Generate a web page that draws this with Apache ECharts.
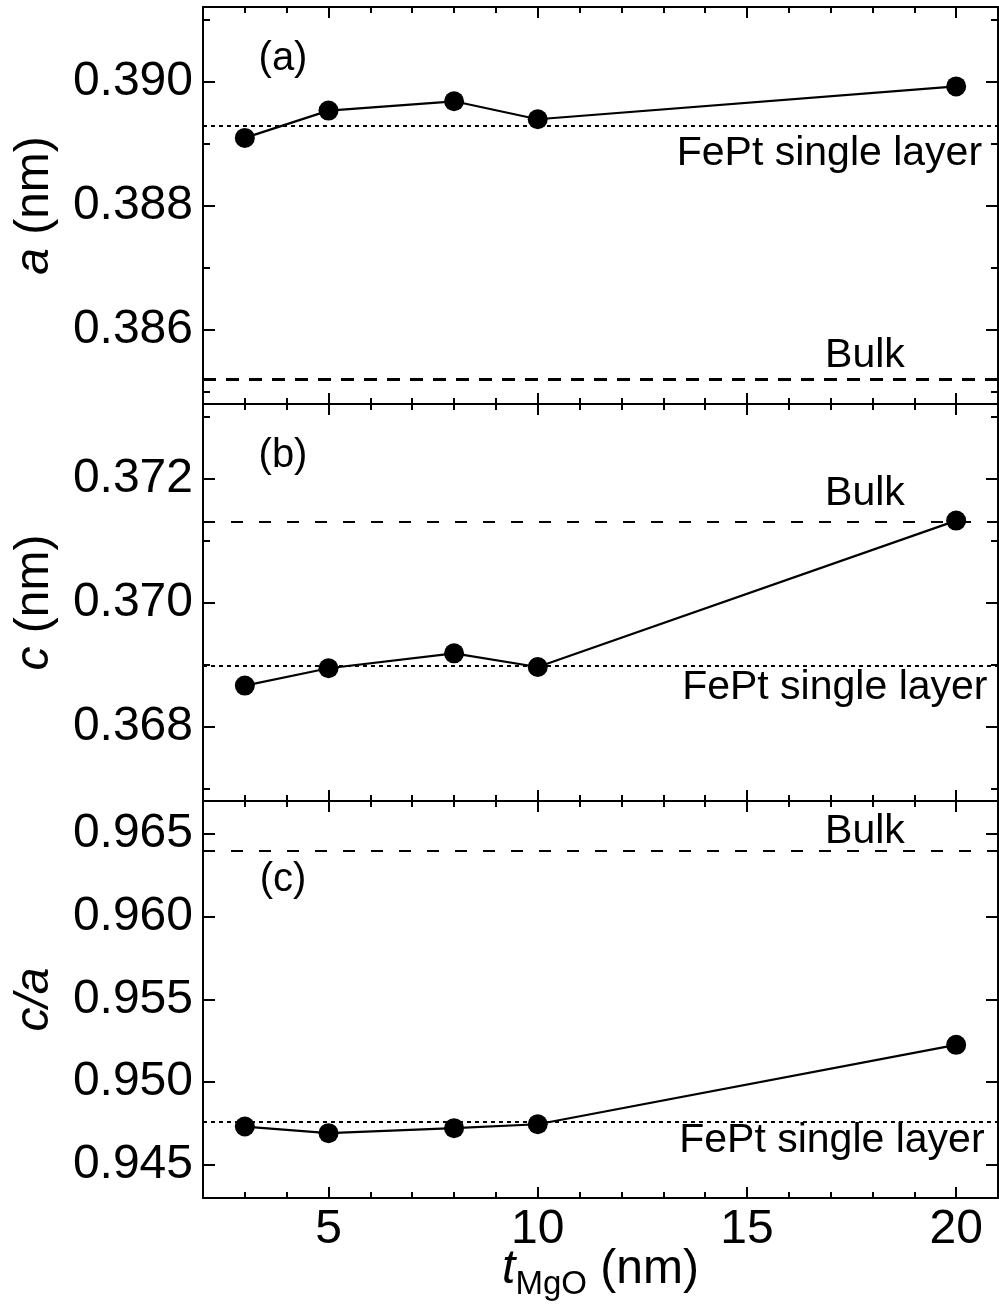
<!DOCTYPE html>
<html>
<head>
<meta charset="utf-8">
<script src="https://cdn.jsdelivr.net/npm/echarts@6/dist/echarts.min.js"></script>
<style>
  html, body { margin: 0; padding: 0; background: #fff; }
  #chart { width: 999px; height: 1304px; }
</style>
</head>
<body>
<div id="chart"></div>
<script>
// MgO layer thickness (nm)
const tMgO = [3, 5, 8, 10, 20];
// in-plane lattice constant a (nm)
const aValues = [0.38909, 0.38953, 0.38968, 0.38939, 0.38992];
// out-of-plane lattice constant c (nm)
const cValues = [0.36866, 0.36894, 0.36918, 0.36896, 0.37132];
// tetragonality c/a
const caValues = [0.94732, 0.94692, 0.94722, 0.94746, 0.95226];

// reference levels: bulk FePt and FePt single layer
const bulkA = 0.3852, singleA = 0.38929;
const bulkC = 0.3713, singleC = 0.36898;
const bulkCA = 0.964, singleCA = 0.9476;

// tick values
const xMajorTicks = [5, 10, 15, 20];
const xMinorTicks = [3, 4, 6, 7, 8, 9, 11, 12, 13, 14, 16, 17, 18, 19];
const aMajorTicks = [0.386, 0.388, 0.390];
const aMinorTicks = [0.385, 0.387, 0.389, 0.391];
const cMajorTicks = [0.368, 0.370, 0.372];
const cMinorTicks = [0.367, 0.369, 0.371, 0.373];
const caMajorTicks = [0.945, 0.950, 0.955, 0.960, 0.965];
const caMinorTicks = [];

const FONT = '"Liberation Sans", Arial, Helvetica, sans-serif';
const BLACK = '#000';

const X_MIN = 2, X_MAX = 21;
const GRID_LEFT = 203, GRID_RIGHT = 1;
const PANEL_TOPS = [7, 404, 801];
const PANEL_H = 397;

const panels = [
  {
    values: aValues, yMin: 0.3848, yMax: 0.3912,
    major: aMajorTicks, minor: aMinorTicks,
    name: '{i|a} (nm)',
    bulk: bulkA, single: singleA,
    bulkDash: [13, 10], bulkWidth: 3,
    bulkLabel: { x: 17.82, dy: -24 },
    singleLabel: { x: 16.97, dy: 28 },
    tag: '(a)', tagY: 59
  },
  {
    values: cValues, yMin: 0.3668, yMax: 0.3732,
    major: cMajorTicks, minor: cMinorTicks,
    name: '{i|c} (nm)',
    bulk: bulkC, single: singleC,
    bulkDash: [12, 16], bulkWidth: 2,
    bulkLabel: { x: 17.82, dy: -28 },
    singleLabel: { x: 17.10, dy: 22 },
    tag: '(b)', tagY: 456
  },
  {
    values: caValues, yMin: 0.943, yMax: 0.967,
    major: caMajorTicks, minor: caMinorTicks,
    name: '{i|c/a}',
    bulk: bulkCA, single: singleCA,
    bulkDash: [12, 16], bulkWidth: 2,
    bulkLabel: { x: 17.82, dy: -19 },
    singleLabel: { x: 17.03, dy: 19 },
    tag: '(c)', tagY: 880
  }
];

const grids = [], xAxes = [], yAxes = [], series = [], graphics = [];

function xAxisDef(g, position, ticks, len, withLine, withLabels) {
  const ax = {
    type: 'value', gridIndex: g, position: position,
    min: X_MIN, max: X_MAX,
    axisLine: { show: withLine, onZero: false, lineStyle: { color: BLACK, width: 2 } },
    axisTick: { show: ticks.length > 0, inside: true, length: len, customValues: ticks,
                lineStyle: { color: BLACK, width: 2 } },
    axisLabel: { show: withLabels, customValues: ticks, margin: 8,
                 fontSize: 48, fontFamily: FONT, color: BLACK },
    splitLine: { show: false }
  };
  if (withLabels) {
    ax.name = '{i|t}{s|MgO}{n| (nm)}';
    ax.nameLocation = 'middle';
    ax.nameGap = 48;
    ax.nameMoveOverlap = false;
    ax.nameTextStyle = {
      color: BLACK, fontFamily: FONT, fontSize: 48,
      rich: {
        i: { fontStyle: 'italic', fontSize: 48, fontFamily: FONT, color: BLACK, lineHeight: 48 },
        s: { fontSize: 33, fontFamily: FONT, color: BLACK, lineHeight: 33, padding: [30, 0, 0, 0] },
        n: { fontSize: 48, fontFamily: FONT, color: BLACK, lineHeight: 48 }
      }
    };
  }
  return ax;
}

function yAxisDef(g, p, position, ticks, len, withLine, withLabels) {
  const ax = {
    type: 'value', gridIndex: g, position: position,
    min: p.yMin, max: p.yMax,
    axisLine: { show: withLine, onZero: false, lineStyle: { color: BLACK, width: 2 } },
    axisTick: { show: ticks.length > 0, inside: true, length: len, customValues: ticks,
                lineStyle: { color: BLACK, width: 2 } },
    axisLabel: { show: withLabels, customValues: ticks, margin: 10,
                 fontSize: 48, fontFamily: FONT, color: BLACK,
                 formatter: v => Number(v).toFixed(3) },
    splitLine: { show: false }
  };
  if (withLabels) {
    ax.name = p.name;
    ax.nameLocation = 'middle';
    ax.nameGap = 144;
    ax.nameMoveOverlap = false;
    ax.nameTextStyle = {
      color: BLACK, fontFamily: FONT, fontSize: 48,
      rich: { i: { fontStyle: 'italic', fontSize: 48, fontFamily: FONT, color: BLACK } }
    };
  }
  return ax;
}

panels.forEach((p, g) => {
  grids.push({ left: GRID_LEFT, right: GRID_RIGHT, top: PANEL_TOPS[g], height: PANEL_H,
               containLabel: false, outerBoundsMode: 'none' });
  const last = g === panels.length - 1;

  // bottom / top x axes: major ticks with the frame line, then minor ticks
  xAxes.push(xAxisDef(g, 'bottom', xMajorTicks, 11, true, last));
  xAxes.push(xAxisDef(g, 'bottom', xMinorTicks, 6, false, false));
  xAxes.push(xAxisDef(g, 'top', xMajorTicks, 11, true, false));
  xAxes.push(xAxisDef(g, 'top', xMinorTicks, 6, false, false));

  // left / right y axes
  yAxes.push(yAxisDef(g, p, 'left', p.major, 12, true, true));
  yAxes.push(yAxisDef(g, p, 'left', p.minor, 7, false, false));
  yAxes.push(yAxisDef(g, p, 'right', p.major, 12, true, false));
  yAxes.push(yAxisDef(g, p, 'right', p.minor, 7, false, false));

  const labelStyle = { show: true, position: 'inside', fontSize: 41,
                       fontFamily: FONT, color: BLACK };

  series.push({
    type: 'line',
    xAxisIndex: 4 * g, yAxisIndex: 4 * g,
    data: tMgO.map((t, i) => [t, p.values[i]]),
    symbol: 'circle', symbolSize: 20,
    itemStyle: { color: BLACK },
    lineStyle: { color: BLACK, width: 2.2 },
    z: 5,
    markLine: {
      silent: true, symbol: ['none', 'none'], label: { show: false },
      precision: 6,
      data: [
        { yAxis: p.bulk, lineStyle: { color: BLACK, type: p.bulkDash, width: p.bulkWidth } },
        { yAxis: p.single, lineStyle: { color: BLACK, type: [4, 4], width: 2 } }
      ]
    },
    markPoint: {
      silent: true, symbol: 'circle', symbolSize: 0,
      itemStyle: { color: 'transparent' },
      data: [
        { coord: [p.bulkLabel.x, p.bulk],
          label: Object.assign({}, labelStyle, { formatter: 'Bulk', offset: [0, p.bulkLabel.dy] }) },
        { coord: [p.singleLabel.x, p.single],
          label: Object.assign({}, labelStyle, { formatter: 'FePt single layer', offset: [0, p.singleLabel.dy] }) }
      ]
    }
  });

  graphics.push({
    type: 'text', x: 283, y: p.tagY, silent: true,
    style: { text: p.tag, fontSize: 40, fontFamily: FONT, fill: BLACK,
             align: 'center', verticalAlign: 'middle' }
  });
});

const chart = echarts.init(document.getElementById('chart'), null, { renderer: 'canvas' });
chart.setOption({
  animation: false,
  backgroundColor: '#fff',
  grid: grids,
  xAxis: xAxes,
  yAxis: yAxes,
  series: series,
  graphic: graphics
});
</script>
</body>
</html>
